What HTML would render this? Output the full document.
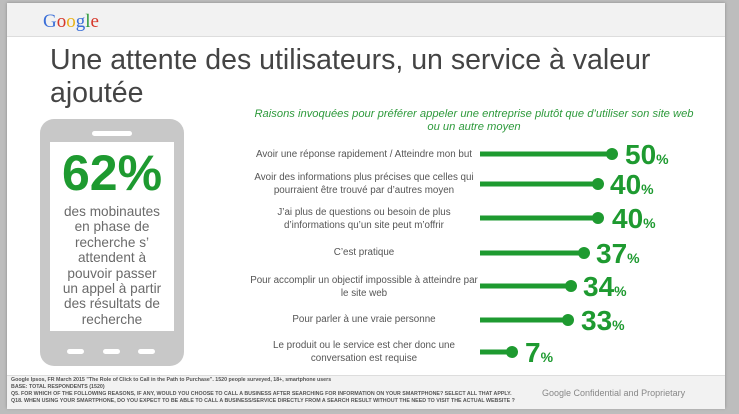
<!DOCTYPE html>
<html><head><meta charset="utf-8"><style>
body{margin:0;width:739px;height:414px;background:#bdbdbd;overflow:hidden;font-family:"Liberation Sans",sans-serif;position:relative}
.slide{position:absolute;left:7px;top:3px;width:718px;height:405px;background:#fff;box-shadow:0 0 3px #888}
.hdr{position:absolute;left:0;top:0;width:718px;height:33px;background:#f2f2f2;border-bottom:1px solid #ddd}
.ftr{position:absolute;left:0;top:372px;width:718px;height:33px;background:#f2f2f2;border-top:1px solid #ddd}
.a{position:absolute;white-space:nowrap}
.lbl{position:absolute;font-size:9.8px;color:#555;text-align:center;line-height:13px;width:236px;left:246px}
</style></head><body>
<div class="slide">
<div class="hdr"></div>
<div class="a" style="left:36px;top:8px;font-family:'Liberation Serif',serif;font-size:19px;"><span style="color:#3b6fd8">G</span><span style="color:#d6382b">o</span><span style="color:#e9b31c">o</span><span style="color:#3b6fd8">g</span><span style="color:#2e9a3c">l</span><span style="color:#d6382b">e</span></div>
<div class="a" style="left:43px;top:41px;font-size:28.5px;color:#444;line-height:33px">Une attente des utilisateurs, un service à valeur<br>ajoutée</div>
<div class="a" style="left:212px;top:105px;width:510px;text-align:center;font-size:11.2px;font-style:italic;color:#2e9a3c;line-height:13px">Raisons invoquées pour préférer appeler une entreprise plutôt que d’utiliser son site web<br>ou un autre moyen</div>
<div class="ftr"></div>
<div class="a" style="left:4px;top:374px;font-size:5.3px;color:#555;line-height:7px;font-weight:bold">Google Ipsos, FR March 2015 "The Role of Click to Call in the Path to Purchase". 1520 people surveyed, 18+, smartphone users<br>BASE: TOTAL RESPONDENTS (1520)<br>Q5. FOR WHICH OF THE FOLLOWING REASONS, IF ANY, WOULD YOU CHOOSE TO CALL A BUSINESS AFTER SEARCHING FOR INFORMATION ON YOUR SMARTPHONE? SELECT ALL THAT APPLY.<br>Q18. WHEN USING YOUR SMARTPHONE, DO YOU EXPECT TO BE ABLE TO CALL A BUSINESS/SERVICE DIRECTLY FROM A SEARCH RESULT WITHOUT THE NEED TO VISIT THE ACTUAL WEBSITE ?</div>
<div class="a" style="left:535px;top:385px;font-size:9px;color:#888">Google Confidential and Proprietary</div>
</div>
<!-- phone -->
<div class="a" style="left:40px;top:119px;width:144px;height:247px;background:#c8c8c8;border-radius:14px"></div>
<div class="a" style="left:50px;top:142px;width:124px;height:189px;background:#fff"></div>
<div class="a" style="left:92px;top:131px;width:40px;height:5px;background:#fff;border-radius:3px"></div>
<div class="a" style="left:67px;top:349px;width:17px;height:5px;background:#fff;border-radius:3px"></div>
<div class="a" style="left:103px;top:349px;width:17px;height:5px;background:#fff;border-radius:3px"></div>
<div class="a" style="left:138px;top:349px;width:17px;height:5px;background:#fff;border-radius:3px"></div>
<div class="a" style="left:50px;top:147px;width:124px;text-align:center;font-size:50px;font-weight:bold;color:#1e9a30;line-height:52px">62%</div>
<div class="a" style="left:50px;top:204px;width:124px;text-align:center;font-size:13.6px;color:#6a6a6a;line-height:15.4px">des mobinautes<br>en phase de<br>recherche s’<br>attendent à<br>pouvoir passer<br>un appel à partir<br>des résultats de<br>recherche</div>
<!-- labels -->
<div class="lbl" style="top:148px">Avoir une réponse rapidement / Atteindre mon but</div>
<div class="lbl" style="top:171px">Avoir des informations plus précises que celles qui pourraient être trouvé par d’autres moyen</div>
<div class="lbl" style="top:206px">J’ai plus de questions ou besoin de plus d’informations qu’un site peut m’offrir</div>
<div class="lbl" style="top:246px">C’est pratique</div>
<div class="lbl" style="top:274px">Pour accomplir un objectif impossible à atteindre par le site web</div>
<div class="lbl" style="top:313px">Pour parler à une vraie personne</div>
<div class="lbl" style="top:339px">Le produit ou le service est cher donc une conversation est requise</div>
<svg class="a" style="left:0;top:0" width="739" height="414">
<g fill="#1e9a30" stroke="#1e9a30" stroke-width="5">
<line x1="480" y1="154" x2="612" y2="154"/><circle cx="612" cy="154" r="6" stroke="none"/>
<line x1="480" y1="184" x2="598" y2="184"/><circle cx="598" cy="184" r="6" stroke="none"/>
<line x1="480" y1="218" x2="598" y2="218"/><circle cx="598" cy="218" r="6" stroke="none"/>
<line x1="480" y1="253" x2="584" y2="253"/><circle cx="584" cy="253" r="6" stroke="none"/>
<line x1="480" y1="286" x2="571" y2="286"/><circle cx="571" cy="286" r="6" stroke="none"/>
<line x1="480" y1="320" x2="568" y2="320"/><circle cx="568" cy="320" r="6" stroke="none"/>
<line x1="480" y1="352" x2="512" y2="352"/><circle cx="512" cy="352" r="6" stroke="none"/>
</g>
<g fill="#1e9a30" font-family="Liberation Sans,sans-serif" font-weight="bold">
<text x="625" y="164" font-size="28">50<tspan font-size="14">%</tspan></text>
<text x="610" y="194" font-size="28">40<tspan font-size="14">%</tspan></text>
<text x="612" y="228" font-size="28">40<tspan font-size="14">%</tspan></text>
<text x="596" y="263" font-size="28">37<tspan font-size="14">%</tspan></text>
<text x="583" y="296" font-size="28">34<tspan font-size="14">%</tspan></text>
<text x="581" y="330" font-size="28">33<tspan font-size="14">%</tspan></text>
<text x="525" y="362" font-size="28">7<tspan font-size="14">%</tspan></text>
</g>
</svg>
</body></html>
